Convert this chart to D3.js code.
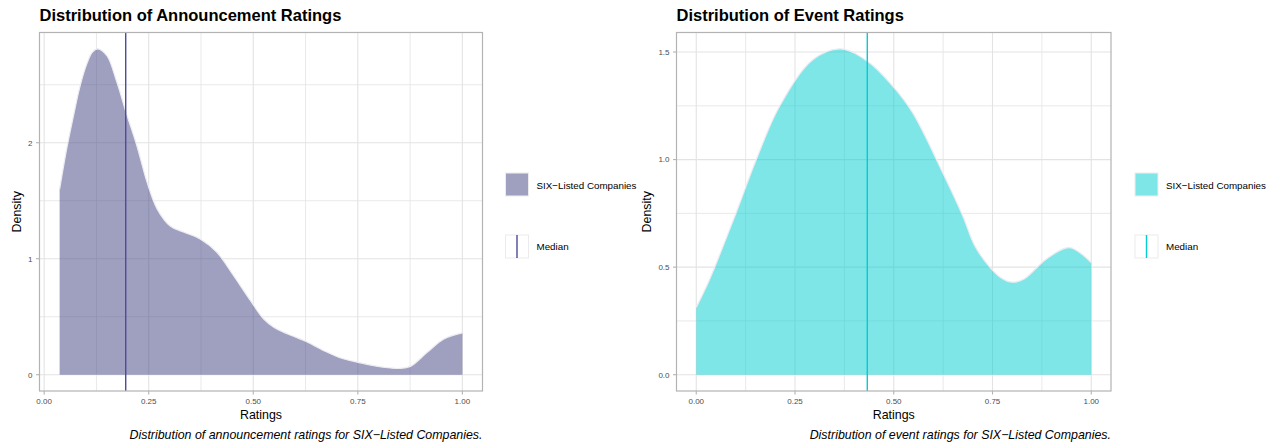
<!DOCTYPE html>
<html>
<head>
<meta charset="utf-8">
<script src="https://cdn.jsdelivr.net/npm/d3@7"></script>
<style>
  body { margin: 0; background: #fff; }
  text { font-family: "Liberation Sans", Arial, sans-serif; }
</style>
</head>
<body>
<svg id="chart" width="1272" height="445"></svg>
<script>
// density curve of announcement ratings
var announceRating = [0.037, 0.054, 0.070, 0.086, 0.102, 0.115, 0.128, 0.150, 0.174, 0.196, 0.222, 0.246,
   0.270, 0.302, 0.333, 0.373, 0.413, 0.453, 0.493, 0.525, 0.549, 0.573, 0.600, 0.625, 0.669, 0.709, 0.750,
   0.788, 0.828, 0.850, 0.876, 0.916, 0.956, 1.0];
var announceDensity = [1.60, 1.95, 2.23, 2.49, 2.68, 2.78, 2.81, 2.75, 2.52, 2.26, 1.97, 1.66,
   1.43, 1.28, 1.23, 1.17, 1.055, 0.853, 0.64, 0.48, 0.41, 0.365, 0.325, 0.288, 0.207, 0.144, 0.107,
   0.078, 0.058, 0.054, 0.072, 0.193, 0.308, 0.36];
var announceMedian = 0.195;

// density curve of event ratings
var eventRating = [0, 0.034, 0.101, 0.152, 0.211, 0.295, 0.365, 0.434, 0.498, 0.548, 0.624, 0.675, 0.705,
   0.743, 0.772, 0.800, 0.83, 0.886, 0.945, 1.0];
var eventDensity = [0.313, 0.444, 0.753, 1.0, 1.248, 1.464, 1.515, 1.456, 1.34, 1.217, 0.939, 0.737, 0.60,
   0.50, 0.45, 0.43, 0.445, 0.537, 0.591, 0.521];
var eventMedian = 0.433;

var xTicks = [0, 0.25, 0.5, 0.75, 1];
var xMinorTicks = [0.125, 0.375, 0.625, 0.875];
var announceYTicks = [0, 1, 2];
var announceYMinor = [0.5, 1.5, 2.5];
var eventYTicks = [0, 0.5, 1, 1.5];
var eventYMinor = [0.25, 0.75, 1.25];

var titles = ["Distribution of Announcement Ratings", "Distribution of Event Ratings"];
var captions = ["Distribution of announcement ratings for SIX\u2212Listed Companies.",
   "Distribution of event ratings for SIX\u2212Listed Companies."];
var legendLabels = ["SIX\u2212Listed Companies", "Median"];

var svg = d3.select("#chart");

function drawPanel(p) {
   var g = svg.append("g");

   // ggplot style 5% expansion
   var xExt = d3.extent(p.rating.concat([p.median]));
   var xPad = 0.05 * (xExt[1] - xExt[0]);
   var x = d3.scaleLinear()
      .domain([xExt[0] - xPad, xExt[1] + xPad])
      .range([p.left, p.right]);
   var yMax = d3.max(p.density);
   var y = d3.scaleLinear()
      .domain([-0.05 * yMax, yMax * 1.05])
      .range([p.bottom, p.top]);

   // grid lines
   var grid = g.append("g").attr("stroke", "#e3e3e3");
   grid.selectAll(".xminor").data(xMinorTicks).enter().append("line")
      .attr("x1", x).attr("x2", x).attr("y1", p.top).attr("y2", p.bottom)
      .attr("stroke-width", 0.8);
   grid.selectAll(".yminor").data(p.yMinor).enter().append("line")
      .attr("y1", y).attr("y2", y).attr("x1", p.left).attr("x2", p.right)
      .attr("stroke-width", 0.8);
   grid.selectAll(".xmajor").data(xTicks).enter().append("line")
      .attr("x1", x).attr("x2", x).attr("y1", p.top).attr("y2", p.bottom)
      .attr("stroke-width", 1.1);
   grid.selectAll(".ymajor").data(p.yTicks).enter().append("line")
      .attr("y1", y).attr("y2", y).attr("x1", p.left).attr("x2", p.right)
      .attr("stroke-width", 1.1);

   var pts = p.rating.map(function (r, i) { return [r, p.density[i]]; });
   var curve = d3.curveCatmullRom.alpha(0.5);

   // density area
   var area = d3.area()
      .x(function (d) { return x(d[0]); })
      .y0(y(0))
      .y1(function (d) { return y(d[1]); })
      .curve(curve);
   g.append("path")
      .datum(pts)
      .attr("d", area)
      .attr("fill", p.fill)
      .attr("fill-opacity", 0.5);

   // upper outline
   var line = d3.line()
      .x(function (d) { return x(d[0]); })
      .y(function (d) { return y(d[1]); })
      .curve(curve);
   g.append("path")
      .datum(pts)
      .attr("d", line)
      .attr("fill", "none")
      .attr("stroke", "#ececf2")
      .attr("stroke-width", 1.2);

   // median line
   g.append("line")
      .attr("x1", x(p.median)).attr("x2", x(p.median))
      .attr("y1", p.top).attr("y2", p.bottom)
      .attr("stroke", p.lineColor)
      .attr("stroke-width", 1.4);

   // panel border
   g.append("rect")
      .attr("x", p.left).attr("y", p.top)
      .attr("width", p.right - p.left).attr("height", p.bottom - p.top)
      .attr("fill", "none")
      .attr("stroke", "#b3b3b3")
      .attr("stroke-width", 1.2);

   // x axis
   var xAxis = g.append("g");
   xAxis.selectAll("line").data(xTicks).enter().append("line")
      .attr("x1", x).attr("x2", x).attr("y1", p.bottom).attr("y2", p.bottom + 3.5)
      .attr("stroke", "#b3b3b3").attr("stroke-width", 1.1);
   xAxis.selectAll("text").data(xTicks).enter().append("text")
      .attr("x", x).attr("y", p.bottom + 13)
      .attr("text-anchor", "middle")
      .style("font-size", "8px")
      .attr("fill", "#4d4d4d")
      .text(d3.format(".2f"));

   // y axis
   var yAxis = g.append("g");
   yAxis.selectAll("line").data(p.yTicks).enter().append("line")
      .attr("y1", y).attr("y2", y).attr("x1", p.left - 3.5).attr("x2", p.left)
      .attr("stroke", "#b3b3b3").attr("stroke-width", 1.1);
   var yLabels = yAxis.selectAll("text").data(p.yTicks).enter().append("text")
      .attr("x", p.left - 7).attr("y", y).attr("dy", "0.35em")
      .attr("text-anchor", "end")
      .style("font-size", "8px")
      .attr("fill", "#4d4d4d")
      .text(d3.format(p.yFormat));
   var labelW = d3.max(yLabels.nodes(), function (n) { return n.getComputedTextLength(); });

   // axis titles
   g.append("text")
      .attr("x", (p.left + p.right) / 2).attr("y", 419)
      .attr("text-anchor", "middle")
      .style("font-size", "12.4px")
      .text("Ratings");
   g.append("text")
      .attr("transform", "translate(" + (p.left - 14 - labelW) + "," + ((p.top + p.bottom) / 2) + ") rotate(-90)")
      .attr("text-anchor", "middle")
      .style("font-size", "12.4px")
      .text("Density");

   // title and caption
   g.append("text")
      .attr("x", p.left).attr("y", 21)
      .style("font-size", "16.5px")
      .style("font-weight", "bold")
      .text(p.title);
   g.append("text")
      .attr("x", p.right).attr("y", 439)
      .attr("text-anchor", "end")
      .style("font-size", "12.4px")
      .style("font-style", "italic")
      .text(p.caption);

   // legend
   var lg = g.append("g").attr("transform", "translate(" + p.legendX + ",173)");
   lg.append("rect")
      .attr("x", 0).attr("y", 0).attr("width", 23).attr("height", 23)
      .attr("fill", "#fff").attr("stroke", "#ebebeb");
   lg.append("rect")
      .attr("x", 0.5).attr("y", 0.5).attr("width", 22).attr("height", 22)
      .attr("fill", p.fill).attr("fill-opacity", 0.5);
   lg.append("text")
      .attr("x", 31).attr("y", 12.5).attr("dy", "0.35em")
      .style("font-size", "9.8px")
      .text(legendLabels[0]);
   lg.append("rect")
      .attr("x", 0).attr("y", 62).attr("width", 23).attr("height", 23)
      .attr("fill", "#fff").attr("stroke", "#ebebeb");
   lg.append("line")
      .attr("x1", 11.5).attr("x2", 11.5).attr("y1", 62).attr("y2", 85)
      .attr("stroke", p.lineColor).attr("stroke-width", 1.4);
   lg.append("text")
      .attr("x", 31).attr("y", 74).attr("dy", "0.35em")
      .style("font-size", "9.8px")
      .text(legendLabels[1]);
}

drawPanel({
   rating: announceRating, density: announceDensity, median: announceMedian,
   yTicks: announceYTicks, yMinor: announceYMinor, yFormat: "d",
   left: 39.5, right: 482.5, top: 32.5, bottom: 391,
   fill: "#3f3f7f", lineColor: "#4e4a9a",
   title: titles[0], caption: captions[0], legendX: 505.5
});

drawPanel({
   rating: eventRating, density: eventDensity, median: eventMedian,
   yTicks: eventYTicks, yMinor: eventYMinor, yFormat: ".1f",
   left: 676.5, right: 1111, top: 32.5, bottom: 391,
   fill: "#00ced1", lineColor: "#00ced1",
   title: titles[1], caption: captions[1], legendX: 1135
});
</script>
</body>
</html>
